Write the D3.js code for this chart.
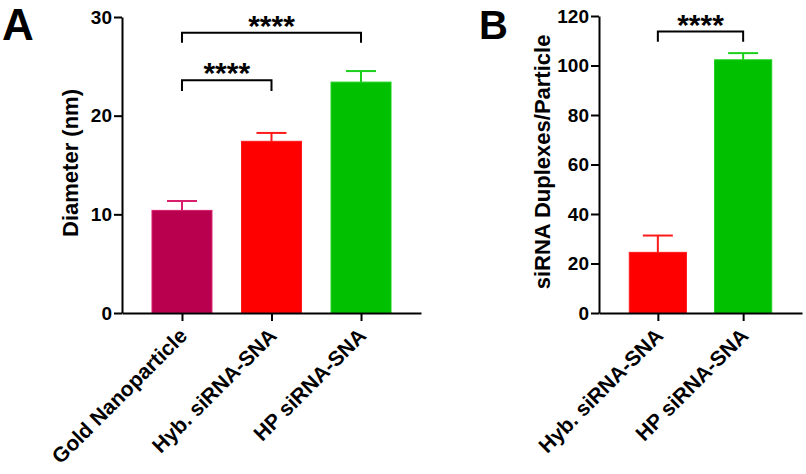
<!DOCTYPE html>
<html><head><meta charset="utf-8">
<script src="https://cdn.jsdelivr.net/npm/d3@7"></script>
<style>body{margin:0;background:#fff}svg{display:block}text{font-family:"Liberation Sans",Arial,sans-serif;font-weight:bold}</style>
</head><body><svg id="c" width="806" height="474"></svg>
<script>
// Panel A data
const catsA = ["Gold Nanoparticle", "Hyb. siRNA-SNA", "HP siRNA-SNA"];
const meanA = [10.4, 17.4, 23.4];
const errA = [0.95, 0.85, 1.12];
const colorsA = ["#b8004e", "#ff0000", "#00c000"];
const errColorsA = ["#d81e6c", "#ff1a1a", "#1ad01a"];
const ticksA = [0, 10, 20, 30];
const sigA = [{from: 0, to: 1, y: 23.6, leg: 22.5, label: "****"}, {from: 0, to: 2, y: 28.4, leg: 27.4, label: "****"}];
// Panel B data
const catsB = ["Hyb. siRNA-SNA", "HP siRNA-SNA"];
const meanB = [24.5, 102.3];
const errB = [6.8, 2.7];
const colorsB = ["#ff0000", "#00c000"];
const errColorsB = ["#ff1a1a", "#1ad01a"];
const ticksB = [0, 20, 40, 60, 80, 100, 120];
const sigB = [{from: 0, to: 1, y: 113.7, leg: 109.6, label: "****"}];

const svg = d3.select("#c");

function panel(o) {
  const g = svg.append("g");
  const x = d3.scalePoint().domain(o.cats).range([o.x0, o.x1]).padding(o.pad);
  const y = d3.scaleLinear().domain([0, o.ymax]).range([o.y0, o.y1]);
  const bw = x.step() * 0.67;
  // bars
  g.selectAll("rect.bar").data(o.cats).join("rect")
    .attr("x", d => x(d) - bw / 2).attr("width", bw)
    .attr("y", (d, i) => y(o.mean[i])).attr("height", (d, i) => y(0) - y(o.mean[i]))
    .attr("fill", (d, i) => o.colors[i]).attr("stroke", (d, i) => o.errColors[i]).attr("stroke-width", 1);
  // error bars
  o.cats.forEach((c, i) => {
    const cx = x(c), top = y(o.mean[i] + o.err[i]);
    g.append("line").attr("x1", cx).attr("x2", cx).attr("y1", y(o.mean[i])).attr("y2", top)
      .attr("stroke", o.errColors[i]).attr("stroke-width", 2);
    g.append("line").attr("x1", cx - 15).attr("x2", cx + 15).attr("y1", top).attr("y2", top)
      .attr("stroke", o.errColors[i]).attr("stroke-width", 2);
  });
  // axes
  const ya = g.append("g").attr("transform", `translate(${o.x0},0)`)
    .call(d3.axisLeft(y).tickValues(o.ticks).tickSize(8).tickPadding(2).tickSizeOuter(0));
  ya.select(".domain").attr("stroke", "#000").attr("stroke-width", 2);
  ya.selectAll(".tick line").attr("stroke", "#000").attr("stroke-width", 2);
  ya.selectAll(".tick text").attr("font-size", 19).attr("fill", "#000").attr("font-family", "Liberation Sans, Arial").attr("font-weight", "bold");
  const xa = g.append("g").attr("transform", `translate(0,${o.y0})`)
    .call(d3.axisBottom(x).tickSize(8).tickSizeOuter(0));
  xa.select(".domain").attr("stroke", "#000").attr("stroke-width", 2);
  xa.selectAll(".tick line").attr("stroke", "#000").attr("stroke-width", 2);
  xa.selectAll(".tick text").attr("font-size", 21).attr("fill", "#000")
    .attr("font-family", "Liberation Sans, Arial").attr("font-weight", "bold")
    .attr("text-anchor", "end").attr("y", 0).attr("dy", 0)
    .attr("transform", "translate(6,24) rotate(-45)");
  // y label
  g.append("text").attr("transform", `translate(${o.labX},${o.labY}) rotate(-90)`)
    .attr("text-anchor", "middle").attr("dominant-baseline", "central")
    .attr("font-size", 22).text(o.ylabel);
  // significance
  o.sig.forEach(s => {
    const xa1 = x(o.cats[s.from]), xa2 = x(o.cats[s.to]);
    g.append("path").attr("d", `M${xa1},${y(s.leg)}V${y(s.y)}H${xa2}V${y(s.leg)}`)
      .attr("fill", "none").attr("stroke", "#000").attr("stroke-width", 2);
    g.append("text").attr("x", (xa1 + xa2) / 2).attr("y", y(s.y) + 3)
      .attr("text-anchor", "middle").attr("font-size", 30).text(s.label);
  });
  // panel letter
  g.append("text").attr("x", o.letX).attr("y", o.letY).attr("font-size", o.letSize).text(o.letter);
}

panel({cats: catsA, mean: meanA, err: errA, colors: colorsA, errColors: errColorsA, ticks: ticksA, sig: sigA,
  x0: 122, x1: 421, pad: 0.67, y0: 313, y1: 17, ymax: 30, ylabel: "Diameter (nm)", labX: 70, labY: 163,
  letter: "A", letX: 2, letY: 40, letSize: 44});
panel({cats: catsB, mean: meanB, err: errB, colors: colorsB, errColors: errColorsB, ticks: ticksB, sig: sigB,
  x0: 599, x1: 802, pad: 0.69, y0: 313, y1: 16, ymax: 120, ylabel: "siRNA Duplexes/Particle", labX: 542, labY: 162,
  letter: "B", letX: 479, letY: 39, letSize: 40});
</script></body></html>
